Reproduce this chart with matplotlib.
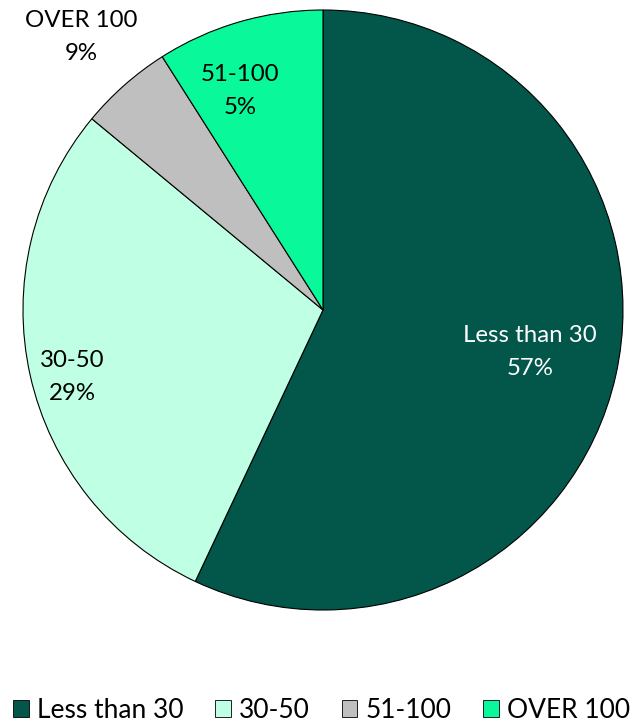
import matplotlib
matplotlib.use("Agg")
import matplotlib.pyplot as plt
from matplotlib.patches import Patch

categories = ["Less than 30", "30-50", "51-100", "OVER 100"]
values = [57, 29, 5, 9]
colors = ["#02564A", "#BFFFE3", "#BFBFBF", "#08F89A"]
# data label texts as shown in the chart (labels placed as in the original)
label_texts = ["Less than 30\n57%", "30-50\n29%", "51-100\n5%", "OVER 100\n9%"]
label_colors = ["white", "black", "black", "black"]
# label positions in pixels (x, y) of original image
label_pos_px = [(530, 352), (72, 377), (240, 91), (81, 37)]

plt.rcParams['font.family'] = ['Lato', 'DejaVu Sans']

W, H = 643, 724
fig = plt.figure(figsize=(W / 100, H / 100), dpi=100)
cx, cy, r = 323, 310, 300
ax = fig.add_axes([(cx - r) / W, (H - cy - r) / H, 2 * r / W, 2 * r / H])
ax.pie(values, colors=colors, startangle=90, counterclock=False, radius=1,
       wedgeprops=dict(edgecolor="black", linewidth=0.8))
ax.set_xlim(-1, 1)
ax.set_ylim(-1, 1)
ax.set_aspect("equal")
ax.axis("off")

for txt, col, (px, py) in zip(label_texts, label_colors, label_pos_px):
    ax.text((px - cx) / r, (cy - py) / r, txt, color=col, fontsize=17.3,
            ha="center", va="center", linespacing=1.65)

handles = [Patch(facecolor=c, edgecolor="black", linewidth=0.6) for c in colors]
fig.legend(handles, categories, loc="center", bbox_to_anchor=(0.5, (H - 710) / H),
           ncol=4, frameon=False, fontsize=19, handlelength=0.6, handleheight=0.6,
           handletextpad=0.3, columnspacing=1.2, borderaxespad=0)

fig.savefig("out.png", dpi=100)
